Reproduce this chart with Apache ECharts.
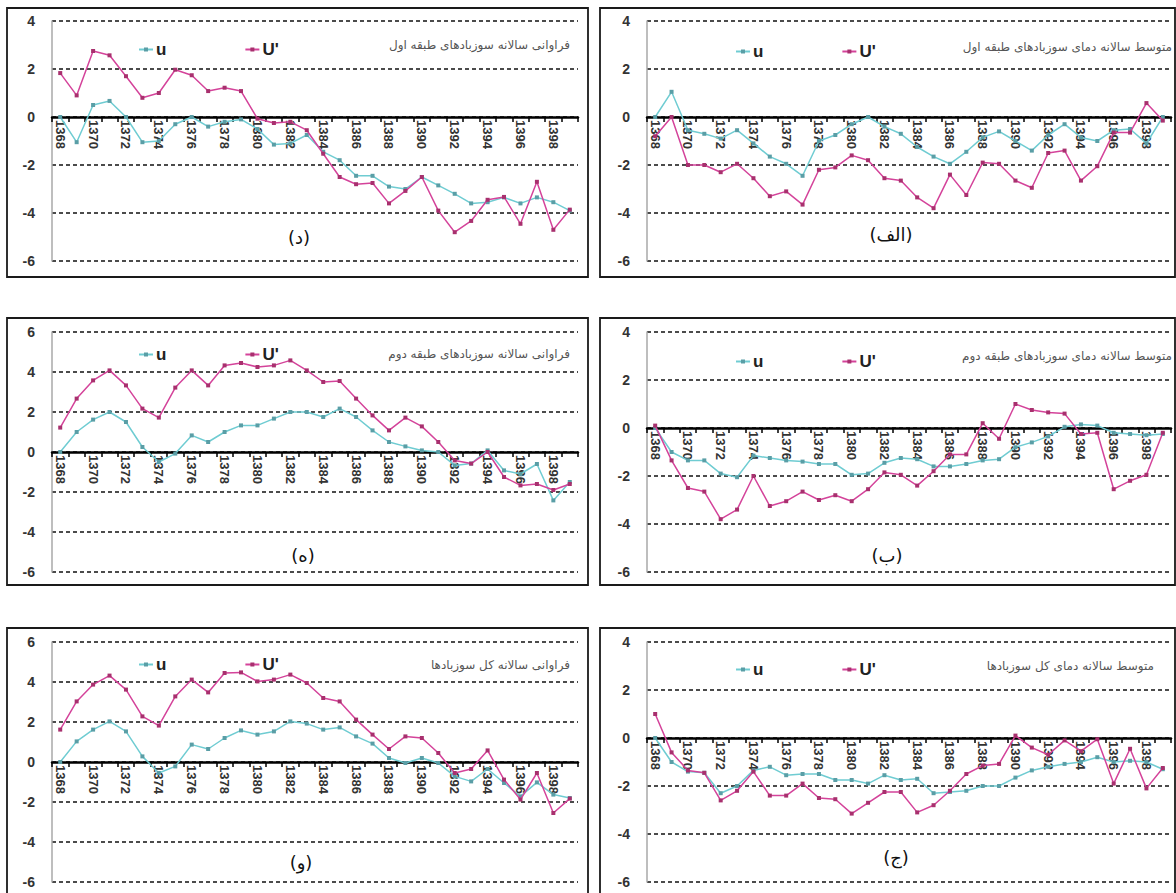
<!DOCTYPE html>
<html>
<head>
<meta charset="utf-8">
<script src="https://cdn.jsdelivr.net/npm/echarts@6/dist/echarts.min.js"></script>
<style>
html,body{margin:0;padding:0;background:#fff;}
#c{width:1176px;height:893px;}
</style>
</head>
<body>
<div id="c"></div>
<script>
// ---- categories ----
const years = ['1368','1369','1370','1371','1372','1373','1374','1375','1376','1377','1378','1379','1380','1381','1382','1383',
               '1384','1385','1386','1387','1388','1389','1390','1391','1392','1393','1394','1395','1396','1397','1398','1399'];
const yTicks = [-6,-4,-2,0,2,4,6];

// ---- (د) annual frequency, class 1 ----
const freq1_u  = [0,-1.05,0.5,0.67,0,-1.05,-1.0,-0.3,0,-0.4,-0.2,-0.1,-0.5,-1.15,-1.1,-0.75,-1.45,-1.8,-2.45,-2.45,-2.9,-3.0,-2.5,-2.85,-3.2,-3.6,-3.55,-3.35,-3.6,-3.35,-3.55,-3.9];
const freq1_up = [1.83,0.9,2.75,2.57,1.7,0.8,1.0,1.97,1.74,1.08,1.22,1.08,-0.07,-0.25,-0.2,-0.55,-1.53,-2.5,-2.8,-2.75,-3.6,-3.08,-2.5,-3.9,-4.8,-4.33,-3.45,-3.33,-4.45,-2.7,-4.7,-3.86];

// ---- (الف) annual mean temperature, class 1 ----
const temp1_u  = [0,1.05,-0.55,-0.7,-0.9,-0.55,-1.1,-1.65,-1.95,-2.45,-1.0,-0.75,-0.3,0,-0.4,-0.7,-1.25,-1.65,-1.95,-1.45,-0.85,-0.6,-1.0,-1.4,-0.75,-0.3,-0.85,-1.0,-0.55,-0.5,-1.1,0];
const temp1_up = [-0.8,0,-2.0,-2.0,-2.3,-1.95,-2.55,-3.3,-3.1,-3.65,-2.2,-2.1,-1.6,-1.8,-2.55,-2.65,-3.35,-3.8,-2.4,-3.25,-1.9,-1.95,-2.65,-2.95,-1.5,-1.4,-2.65,-2.05,-0.65,-0.65,0.58,-0.15];

// ---- (ه) annual frequency, class 2 ----
const freq2_u  = [0,1.0,1.62,2.0,1.5,0.25,-0.5,-0.08,0.83,0.5,1.0,1.33,1.33,1.67,2.0,2.0,1.75,2.17,1.75,1.08,0.5,0.28,0.08,0,-0.67,-0.58,0.08,-0.92,-1.1,-0.6,-2.42,-1.5];
const freq2_up = [1.22,2.67,3.58,4.08,3.33,2.17,1.72,3.22,4.08,3.33,4.33,4.45,4.25,4.33,4.58,4.08,3.5,3.55,2.67,1.83,1.08,1.72,1.28,0.5,-0.42,-0.58,0,-1.25,-1.67,-1.6,-1.9,-1.6];

// ---- (ب) annual mean temperature, class 2 ----
const temp2_u  = [0,-1.0,-1.35,-1.35,-1.9,-2.05,-1.15,-1.25,-1.35,-1.4,-1.5,-1.5,-1.95,-1.9,-1.45,-1.25,-1.3,-1.6,-1.6,-1.5,-1.35,-1.3,-0.8,-0.6,-0.35,0.05,0.15,0.1,-0.2,-0.25,-0.3,-0.25];
const temp2_up = [0.1,-1.35,-2.5,-2.65,-3.8,-3.4,-2.0,-3.25,-3.05,-2.65,-3.0,-2.8,-3.05,-2.55,-1.85,-1.95,-2.4,-1.8,-1.1,-1.1,0.2,-0.45,1.0,0.75,0.65,0.6,-0.25,-0.2,-2.55,-2.2,-1.95,-0.2];

// ---- (و) annual frequency, all ----
const freq3_u  = [0,1.03,1.62,2.03,1.53,0.28,-0.55,-0.22,0.87,0.65,1.2,1.58,1.37,1.53,2.03,1.92,1.62,1.73,1.28,0.92,0.2,-0.05,0.2,-0.05,-0.72,-0.97,-0.35,-1.05,-1.72,-1.02,-1.63,-1.8];
const freq3_up = [1.62,3.03,3.87,4.32,3.62,2.28,1.82,3.28,4.12,3.48,4.45,4.48,4.03,4.12,4.37,3.95,3.2,3.03,2.12,1.37,0.65,1.28,1.2,0.45,-0.55,-0.35,0.58,-0.88,-1.88,-0.55,-2.55,-1.83];

// ---- (ج) annual mean temperature, all ----
const temp3_u  = [0,-1.0,-1.4,-1.45,-2.3,-2.0,-1.35,-1.2,-1.55,-1.5,-1.5,-1.75,-1.75,-1.9,-1.55,-1.75,-1.7,-2.3,-2.25,-2.2,-2.0,-2.0,-1.65,-1.35,-1.2,-1.08,-1.0,-0.8,-1.0,-0.95,-1.0,-1.3];
const temp3_up = [1.0,-0.6,-1.35,-1.45,-2.6,-2.2,-1.4,-2.4,-2.4,-1.9,-2.5,-2.55,-3.15,-2.7,-2.25,-2.25,-3.1,-2.8,-2.2,-1.5,-1.15,-1.08,0.1,-0.4,-0.7,-0.1,-0.55,-0.05,-1.9,-0.45,-2.1,-1.25];

// ---- texts ----
const seriesNames = ['u', "U'"];
const panelTitles = ['فراوانی سالانه سوزبادهای طبقه اول','متوسط سالانه دمای سوزبادهای طبقه اول',
                     'فراوانی سالانه سوزبادهای طبقه دوم','متوسط سالانه دمای سوزبادهای طبقه دوم',
                     'فراوانی سالانه کل سوزبادها','متوسط سالانه دمای کل سوزبادها'];
const panelLabels = ['(د)','(الف)','(ه)','(ب)','(و)','(ج)'];
const panelMin = [-6,-6,-6,-6,-6,-6];
const panelMax = [4,4,6,4,6,4];
const panelU  = [freq1_u, temp1_u, freq2_u, temp2_u, freq3_u, temp3_u];
const panelUp = [freq1_up, temp1_up, freq2_up, temp2_up, freq3_up, temp3_up];

// ---- layout (pixels) ----
const L = [
  {gl:52, gw:526, gt:21,  bx:7,   by:8,   bw:581, bh:269, lx:133, ly:36,  tr:570,  ty:45,  px:299, py:237},
  {gl:647,gw:524, gt:21,  bx:600, by:8,   bw:575, bh:269, lx:730, ly:38,  tr:1172, ty:47,  px:891, py:234},
  {gl:52, gw:526, gt:332, bx:7,   by:318, bw:581, bh:267, lx:133, ly:341, tr:570,  ty:354, px:303, py:555},
  {gl:647,gw:524, gt:332, bx:600, by:318, bw:575, bh:267, lx:730, ly:348, tr:1172, ty:356, px:887, py:555},
  {gl:52, gw:526, gt:642, bx:7,   by:628, bw:581, bh:280, lx:133, ly:651, tr:570,  ty:665, px:301, py:862},
  {gl:647,gw:524, gt:642, bx:600, by:628, bw:575, bh:280, lx:730, ly:656, tr:1154, ty:666, px:896, py:857}
];
const GH = 240;
const colU = '#6fccd2', colUp = '#d4439a';
const fontLat = 'Arial, "Liberation Sans", sans-serif';
const fontFa = '"DejaVu Sans", sans-serif';

const grid=[], xAxis=[], yAxis=[], series=[], legend=[], graphic=[];
L.forEach((p,i)=>{
  // place the category axis on the zero line (offset up from the grid bottom)
  const zeroOffset = -GH * (0 - panelMin[i]) / (panelMax[i] - panelMin[i]);
  grid.push({left:p.gl, top:p.gt, width:p.gw, height:GH, containLabel:false, outerBoundsMode:'none'});
  xAxis.push({
    type:'category', gridIndex:i, data:years, boundaryGap:true, position:'bottom', offset:zeroOffset,
    axisLine:{onZero:false, lineStyle:{color:'#000', width:2.5}},
    axisTick:{show:true, interval:0, length:5, lineStyle:{color:'#000', width:1.5}},
    axisLabel:{interval:1, rotate:-90, margin:3, fontSize:13, fontWeight:'bold', color:'#333', fontFamily:fontLat},
    splitLine:{show:false}
  });
  yAxis.push({
    type:'value', gridIndex:i, min:panelMin[i], max:panelMax[i], interval:2,
    axisLine:{show:true, onZero:false, lineStyle:{color:'#a8a8a8', width:1.5}},
    axisTick:{show:false},
    axisLabel:{margin:17, fontSize:14, fontWeight:'bold', color:'#333', fontFamily:fontLat},
    splitLine:{show:true, lineStyle:{color:'#111', width:1.6, type:[4,3]}}
  });
  series.push({
    name:seriesNames[0], type:'line', xAxisIndex:i, yAxisIndex:i, data:panelU[i],
    symbol:'rect', symbolSize:4, showSymbol:true,
    lineStyle:{color:colU, width:1.5}, itemStyle:{color:'#5a9ea6'}, z:3
  });
  series.push({
    name:seriesNames[1], type:'line', xAxisIndex:i, yAxisIndex:i, data:panelUp[i],
    symbol:'rect', symbolSize:4, showSymbol:true,
    lineStyle:{color:colUp, width:1.5}, itemStyle:{color:'#a8306e'}, z:4
  });
  legend.push({
    left:p.lx, top:p.ly, orient:'horizontal', itemGap:78, itemWidth:14, itemHeight:5,
    data:seriesNames, selectedMode:false,
    textStyle:{fontSize:17, fontWeight:'bold', color:'#222', fontFamily:fontLat, padding:[0,0,0,-2]}
  });
  graphic.push({type:'rect', shape:{x:p.bx, y:p.by, width:p.bw, height:p.bh},
    style:{fill:'none', stroke:'#1a1a1a', lineWidth:1.8}, silent:true, z:100});
  graphic.push({type:'text', x:p.tr, y:p.ty,
    style:{text:panelTitles[i], fill:'#555', font:'12px ' + fontFa, textAlign:'right', textVerticalAlign:'middle'}});
  graphic.push({type:'text', x:p.px, y:p.py,
    style:{text:panelLabels[i], fill:'#111', font:'18px ' + fontFa, textAlign:'center', textVerticalAlign:'middle'}});
});

const chart = echarts.init(document.getElementById('c'), null, {renderer:'svg'});
chart.setOption({
  backgroundColor:'#fff',
  animation:false,
  grid, xAxis, yAxis, series, legend, graphic
});
</script>
</body>
</html>
